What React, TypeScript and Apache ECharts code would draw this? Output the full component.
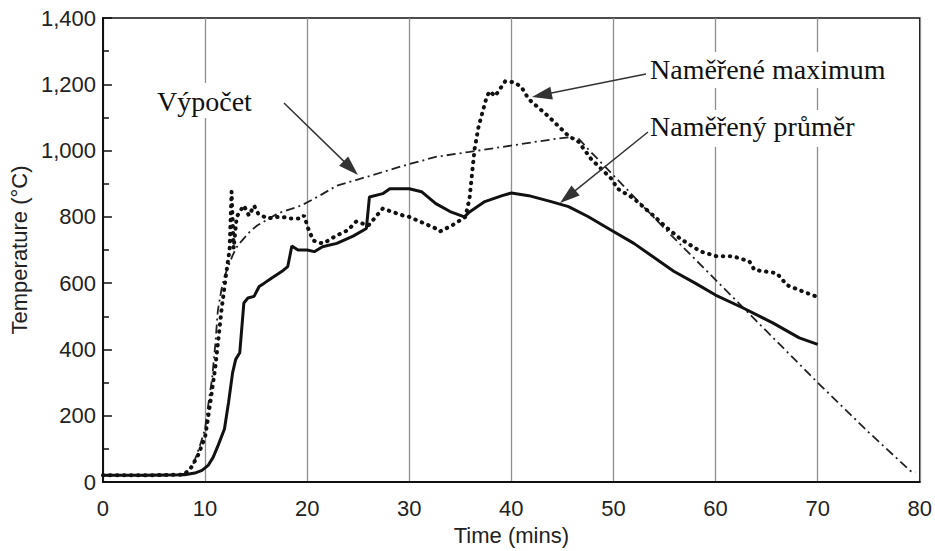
import React, { useEffect, useRef } from "react";
import * as echarts from "echarts";

// Naměřený průměr (solid)
const avgTime = [0, 4, 8, 9, 9.7, 10.3, 10.8, 11.3, 11.9, 12.3, 12.7, 13.0, 13.4, 13.8, 14.2, 14.8, 15.3, 15.8, 16.5, 17.5, 18.1, 18.5, 19.1, 20.0, 20.7, 21.5, 22.9, 24.5, 25.8, 26.1, 27.4, 28.1, 30.0, 31.2, 32.6, 34.0, 35.4, 35.9, 37.4, 39.1, 40.0, 41.7, 43.9, 45.6, 47.5, 50.0, 52.0, 55.9, 58.0, 60.0, 62.7, 65.6, 68.2, 70.0];
const avgTemp = [20, 20, 22, 27, 35, 50, 75, 112, 160, 240, 330, 370, 390, 540, 555, 560, 590, 600, 615, 635, 650, 712, 700, 700, 695, 710, 720, 742, 765, 860, 870, 885, 885, 876, 840, 816, 800, 815, 846, 864, 872, 864, 846, 831, 801, 756, 720, 636, 600, 564, 525, 480, 435, 415];

// Naměřené maximum (dotted)
const maxTime = [0, 4, 7.8, 8.5, 9.3, 10, 10.3, 11, 11.6, 12.1, 12.4, 12.6, 12.8, 13.1, 13.4, 13.8, 14.3, 14.8, 15.2, 16.1, 17.4, 18.4, 19.4, 19.7, 20.1, 20.6, 21.1, 21.6, 22.9, 24, 24.8, 26, 27.4, 29.4, 30, 32.6, 33, 34.2, 35.5, 35.9, 36.4, 36.8, 37.6, 37.9, 38.4, 39.4, 40.3, 41, 41.7, 43.6, 45.6, 46.6, 47.8, 49.8, 50.4, 52, 53.9, 55.3, 56.5, 58.5, 60.1, 61.7, 63.3, 63.8, 66, 67, 68.2, 70];
const maxTemp = [20, 20, 22, 36, 80, 135, 195, 345, 516, 636, 700, 876, 705, 800, 816, 834, 804, 834, 810, 795, 801, 795, 795, 804, 765, 729, 722, 720, 744, 760, 786, 774, 825, 804, 800, 765, 756, 774, 800, 855, 1005, 1074, 1164, 1179, 1164, 1209, 1206, 1191, 1155, 1104, 1044, 1026, 975, 915, 885, 855, 804, 765, 735, 696, 681, 681, 666, 640, 630, 594, 579, 558];

// Výpočet (dash-dot)
const calcTime = [0, 6, 8, 8.8, 9.5, 10, 10.3, 10.7, 11, 11.25, 11.6, 11.9, 12.7, 13.2, 14.4, 15.1, 16, 17.1, 19.4, 21, 22.9, 26.2, 29.4, 32.6, 35.9, 39.1, 42.3, 44.5, 45.6, 46.6, 47.5, 50, 55, 60, 65, 70, 75, 79.1, 79.6];
const calcTemp = [20, 20, 25, 50, 110, 160, 230, 315, 414, 516, 580, 620, 684, 714, 756, 774, 790, 810, 834, 860, 894, 924, 954, 981, 996, 1011, 1026, 1036, 1040, 1035, 1005, 925, 765, 610, 455, 300, 150, 33, 30];

const xTickValues = [0, 10, 20, 30, 40, 50, 60, 70, 80];
const yTickValues = [0, 200, 400, 600, 800, 1000, 1200, 1400];

const labelCalc = "Výpočet";
const labelMax = "Naměřené maximum";
const labelAvg = "Naměřený průměr";

const pairs = (xs: number[], ys: number[]) => xs.map((x, i) => [x, ys[i]]);

function arrow(ax: number, ay: number, bx: number, by: number) {
  const dx = bx - ax;
  const dy = by - ay;
  const len = Math.sqrt(dx * dx + dy * dy);
  const ux = dx / len;
  const uy = dy / len;
  const hl = 20;
  const hw = 6.5;
  const baseX = bx - ux * hl;
  const baseY = by - uy * hl;
  const px = -uy;
  const py = ux;
  return [
    {
      type: "line",
      shape: { x1: ax, y1: ay, x2: baseX + ux * 4, y2: baseY + uy * 4 },
      style: { stroke: "#333", lineWidth: 1.5 },
      z: 120,
    },
    {
      type: "polygon",
      shape: {
        points: [
          [bx, by],
          [baseX + px * hw, baseY + py * hw],
          [baseX - px * hw, baseY - py * hw],
        ],
      },
      style: { fill: "#333" },
      z: 120,
    },
  ];
}

export default function App() {
  const ref = useRef<HTMLDivElement>(null);
  useEffect(() => {
    if (!ref.current) return;
    const chart = echarts.init(ref.current, null, { renderer: "svg" });
    const sans = "Liberation Sans";
    const serif = "Liberation Serif";
    chart.setOption({
      animation: false,
      backgroundColor: "#ffffff",
      grid: {
        left: 99,
        right: 13,
        top: 18,
        bottom: 66,
        show: true,
        borderColor: "#111",
        borderWidth: 1.5,
        containLabel: false,
      },
      xAxis: {
        type: "value",
        min: xTickValues[0],
        max: xTickValues[xTickValues.length - 1],
        interval: 10,
        name: "Time (mins)",
        nameLocation: "middle",
        nameGap: 42,
        nameTextStyle: { fontFamily: sans, fontSize: 22, color: "#222" },
        axisLine: { show: true, lineStyle: { color: "#111", width: 2 } },
        axisTick: { show: false },
        axisLabel: { fontFamily: sans, fontSize: 22, color: "#222", margin: 15 },
        splitLine: { show: true, lineStyle: { color: "#8f8f8f", width: 1.3 } },
      },
      yAxis: {
        type: "value",
        min: yTickValues[0],
        max: yTickValues[yTickValues.length - 1],
        interval: 200,
        name: "Temperature (°C)",
        nameLocation: "middle",
        nameRotate: 90,
        nameGap: 64,
        nameTextStyle: { fontFamily: sans, fontSize: 22, color: "#222" },
        axisLine: { show: true, lineStyle: { color: "#111", width: 2 } },
        axisTick: { show: true, inside: true, length: 9, lineStyle: { color: "#111", width: 1.5 } },
        minorTick: { show: true, splitNumber: 2, length: 6, lineStyle: { color: "#111", width: 1.5 } },
        axisLabel: {
          fontFamily: sans,
          fontSize: 22,
          color: "#222",
          margin: 7,
          padding: [6, 0, 0, 0],
          formatter: (v: number) => v.toLocaleString("en-US"),
        },
        splitLine: { show: false },
      },
      series: [
        {
          name: labelCalc,
          type: "line",
          data: pairs(calcTime, calcTemp),
          showSymbol: false,
          lineStyle: { color: "#222", width: 1.8, type: [9, 4, 2, 4] },
          z: 3,
        },
        {
          name: labelMax,
          type: "line",
          data: pairs(maxTime, maxTemp),
          showSymbol: false,
          lineStyle: { color: "#111", width: 4, type: [0.5, 6.5], cap: "round" },
          z: 4,
        },
        {
          name: labelAvg,
          type: "line",
          data: pairs(avgTime, avgTemp),
          showSymbol: false,
          lineStyle: { color: "#111", width: 3 },
          z: 5,
        },
      ],
      graphic: [
        { type: "rect", shape: { x: 145, y: 83, width: 132, height: 35 }, style: { fill: "#fff" }, z: 100 },
        { type: "rect", shape: { x: 645, y: 52, width: 272, height: 36 }, style: { fill: "#fff" }, z: 100 },
        { type: "rect", shape: { x: 645, y: 110, width: 240, height: 37 }, style: { fill: "#fff" }, z: 100 },
        {
          type: "text",
          x: 157,
          y: 101,
          style: { text: labelCalc, fontFamily: serif, fontSize: 28, fill: "#111", verticalAlign: "middle" },
          z: 110,
        },
        {
          type: "text",
          x: 650,
          y: 69,
          style: { text: labelMax, fontFamily: serif, fontSize: 28, fill: "#111", verticalAlign: "middle" },
          z: 110,
        },
        {
          type: "text",
          x: 650,
          y: 126,
          style: { text: labelAvg, fontFamily: serif, fontSize: 28, fill: "#111", verticalAlign: "middle" },
          z: 110,
        },
        ...arrow(284, 103, 358, 175),
        ...arrow(646, 74, 532, 97),
        ...arrow(648, 132, 560, 203),
      ],
    });
    return () => chart.dispose();
  }, []);
  return (
    <div
      ref={ref}
      style={{ position: "fixed", left: 0, top: 0, width: 935, height: 551, background: "#fff" }}
    />
  );
}
